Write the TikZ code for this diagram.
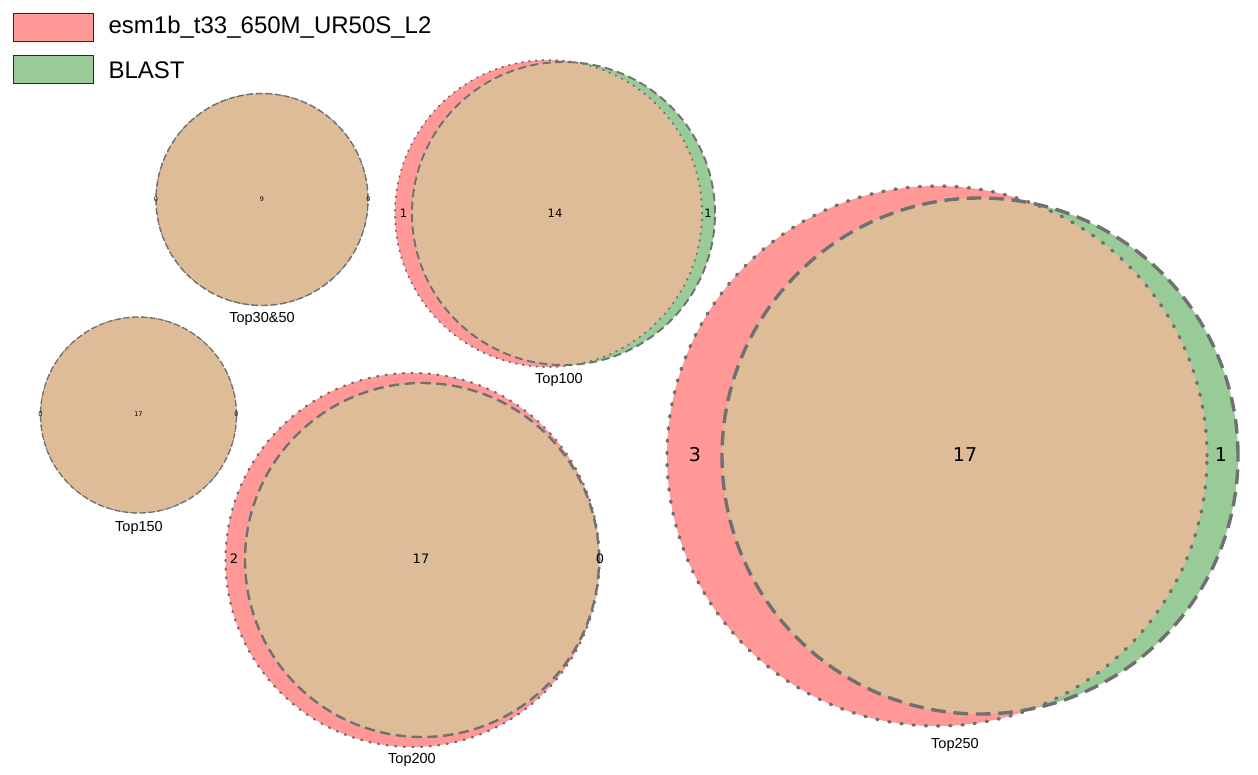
\documentclass[tikz,border=0pt]{standalone}
\usepackage{fontspec}
\setmainfont{Liberation Sans}
\newfontfamily\countfont{DejaVu Sans}
\usetikzlibrary{positioning}

\definecolor{setred}{RGB}{255,152,150}
\definecolor{setgreen}{RGB}{152,203,152}
\definecolor{settan}{RGB}{223,188,152}
\definecolor{vennline}{RGB}{112,112,112}
\definecolor{keyedge}{RGB}{30,40,60}

\tikzset{
  outlineA/.style={draw=vennline, line width=#1, line cap=round, dash pattern=on 0.4*#1 off 3.2*#1},
  outlineB/.style={draw=vennline, line width=#1, dash pattern=on 4.3*#1 off 2.3*#1},
  keybox/.style={draw=keyedge, line width=0.8pt, minimum width=80pt, minimum height=28pt, inner sep=0pt},
  keytext/.style={font=\fontsize{24}{28}\selectfont, anchor=west, inner sep=0pt},
  title/.style={font=\fontsize{14.5}{16}\selectfont, inner sep=0pt},
  count/.style={font=\countfont\fontsize{#1}{#1}\selectfont, inner sep=0pt},
}

% one two-set diagram: A centre, A radius, B centre, B radius, line width
\newcommand{\vennpair}[5]{%
  \fill[setred] (#1) circle (#2);
  \fill[setgreen] (#3) circle (#4);
  \begin{scope}
    \clip (#1) circle (#2);
    \fill[settan] (#3) circle (#4);
  \end{scope}
  \draw[outlineA=#5] (#1) circle (#2);
  \draw[outlineB=#5] (#3) circle (#4);
}

\begin{document}
\begin{tikzpicture}[x=1pt, y=-1pt]
  \useasboundingbox (0,0) rectangle (1258,774);

  % legend
  \node[keybox, fill=setred] (keyA) at (53,27) {};
  \node[keybox, fill=setgreen, below=14pt of keyA] (keyB) {};
  \node[keytext, right=15pt of keyA] (keyAtext) {esm1b\_t33\_650M\_UR50S\_L2};
  \node[keytext, right=15pt of keyB] (keyBtext) {BLAST};

  % Top30&50
  \coordinate (t30A) at (262,199.5);
  \coordinate (t30B) at (262,199.5);
  \vennpair{t30A}{106pt}{t30B}{106pt}{1.4pt}
  \node[count=6.5] (t30only) at (156,199.5) {0};
  \node[count=6.5] (t30both) at (262,199.5) {9};
  \node[count=6.5] (t30blast) at (368.5,199.5) {0};
  \node[title] (t30title) at (262,319) {Top30\&50};

  % Top150
  \coordinate (t150A) at (138.5,415);
  \coordinate (t150B) at (138.5,415);
  \vennpair{t150A}{98pt}{t150B}{98pt}{1.3pt}
  \node[count=6.5] (t150only) at (40.5,414) {0};
  \node[count=6.5] (t150both) at (138.5,414) {17};
  \node[count=6.5] (t150blast) at (236.5,414) {0};
  \node[title] (t150title) at (139,528) {Top150};

  % Top100
  \coordinate (t100A) at (548.5,213.5);
  \coordinate (t100B) at (563.5,213.5);
  \vennpair{t100A}{153.5pt}{t100B}{151.5pt}{1.9pt}
  \node[count=11.5] (t100only) at (403.5,213) {1};
  \node[count=11.5] (t100both) at (555,213) {14};
  \node[count=11.5] (t100blast) at (708,213) {1};
  \node[title] (t100title) at (559,380) {Top100};

  % Top200
  \coordinate (t200A) at (412.5,560);
  \coordinate (t200B) at (422,560);
  \vennpair{t200A}{187pt}{t200B}{177pt}{2.4pt}
  \node[count=13] (t200only) at (234,559) {2};
  \node[count=13] (t200both) at (421,559) {17};
  \node[count=13] (t200blast) at (600,559) {0};
  \node[title] (t200title) at (412,760) {Top200};

  % Top250
  \coordinate (t250A) at (937,456);
  \coordinate (t250B) at (980,456);
  \vennpair{t250A}{270pt}{t250B}{258pt}{3.4pt}
  \node[count=19] (t250only) at (695,455) {3};
  \node[count=19] (t250both) at (965,455) {17};
  \node[count=19] (t250blast) at (1221,455) {1};
  \node[title] (t250title) at (955,745) {Top250};
\end{tikzpicture}
\end{document}
